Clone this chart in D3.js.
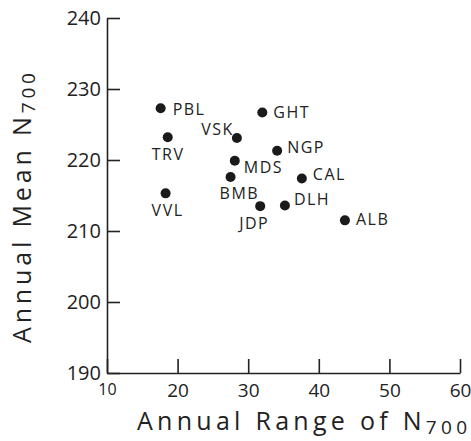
<!DOCTYPE html>
<html>
<head>
<meta charset="utf-8">
<script src="https://cdn.jsdelivr.net/npm/d3@7"></script>
<style>
  body { margin: 0; background: #fff; }
  svg text { font-family: "Open Sans", "DejaVu Sans", sans-serif; fill: #222; }
</style>
</head>
<body>
<div id="chart"></div>
<script>
// station codes and values
var stations = ["PBL", "TRV", "VVL", "VSK", "GHT", "NGP", "MDS", "BMB", "CAL", "DLH", "JDP", "ALB"];
var annualRange = [17.6, 18.6, 18.3, 28.4, 32.0, 34.1, 28.1, 27.5, 37.6, 35.2, 31.7, 43.7];
var annualMean = [227.3, 223.2, 215.3, 223.1, 226.7, 221.3, 219.9, 217.6, 217.4, 213.6, 213.5, 211.5];
var xTicks = [10, 20, 30, 40, 50, 60];
var yTicks = [190, 200, 210, 220, 230, 240];

// where each label sits relative to its dot
var labelPos = {
    PBL: [12, 1, "start"], TRV: [-16, 17, "start"], VVL: [-14, 17, "start"],
    VSK: [-3, -9, "end"], GHT: [11, 0, "start"], NGP: [10, -4, "start"],
    MDS: [9, 7, "start"], BMB: [-11, 16, "start"], CAL: [11, -4, "start"],
    DLH: [9, -6, "start"], JDP: [-21, 17, "start"], ALB: [11, -1, "start"]
};

var width = 471, height = 441;
var svg = d3.select("#chart").append("svg")
    .attr("width", width)
    .attr("height", height);

var x = d3.scaleLinear().domain([10, 60]).range([107, 460]);
var y = d3.scaleLinear().domain([190, 240]).range([373, 18]);

// y axis, ticks pointing inward
var yAxis = svg.append("g")
    .attr("transform", "translate(" + x(10) + ",0)")
    .call(d3.axisLeft(y).tickValues(yTicks).tickSize(-13).tickSizeOuter(0).tickPadding(6));
yAxis.selectAll("text").attr("font-size", 20).attr("font-family", null);

var xAxis = svg.append("g")
    .attr("transform", "translate(0," + y(190) + ")")
    .call(d3.axisBottom(x).tickValues(xTicks).tickSize(-14).tickSizeOuter(0).tickPadding(11));
xAxis.selectAll("text").attr("font-size", 19).attr("font-family", null)
    .filter(function(d) { return d == 10; }).attr("font-size", 16);

svg.selectAll(".domain, .tick line").attr("stroke", "#222").attr("stroke-width", 1.6);

// points
var rows = stations.map(function(s, i) { return {name: s, r: annualRange[i], m: annualMean[i]}; });

svg.selectAll("circle.pt")
    .data(rows)
    .enter().append("circle")
    .attr("class", "pt")
    .attr("cx", function(d) { return x(d.r); })
    .attr("cy", function(d) { return y(d.m); })
    .attr("r", 5)
    .attr("fill", "#1a1a1a");

svg.selectAll("text.lbl")
    .data(rows)
    .enter().append("text")
    .attr("class", "lbl")
    .attr("x", function(d) { return x(d.r) + labelPos[d.name][0]; })
    .attr("y", function(d) { return y(d.m) + labelPos[d.name][1]; })
    .attr("dy", "0.36em")
    .attr("text-anchor", function(d) { return labelPos[d.name][2]; })
    .attr("font-size", 16)
    .attr("letter-spacing", 1.5)
    .text(function(d) { return d.name; });

// axis titles, stretched like the hand lettering
var xt = svg.append("text")
    .attr("x", 137)
    .attr("y", 430)
    .attr("font-size", 25)
    .attr("textLength", 330)
    .attr("lengthAdjust", "spacing");
xt.append("tspan").text("Annual Range of N");
xt.append("tspan").attr("font-size", 19).attr("dy", 4).text("700");

var yt = svg.append("text")
    .attr("transform", "translate(31,343) rotate(-90)")
    .attr("font-size", 25)
    .attr("textLength", 270)
    .attr("lengthAdjust", "spacing");
yt.append("tspan").text("Annual Mean N");
yt.append("tspan").attr("font-size", 19).attr("dy", 4).text("700");
</script>
</body>
</html>
